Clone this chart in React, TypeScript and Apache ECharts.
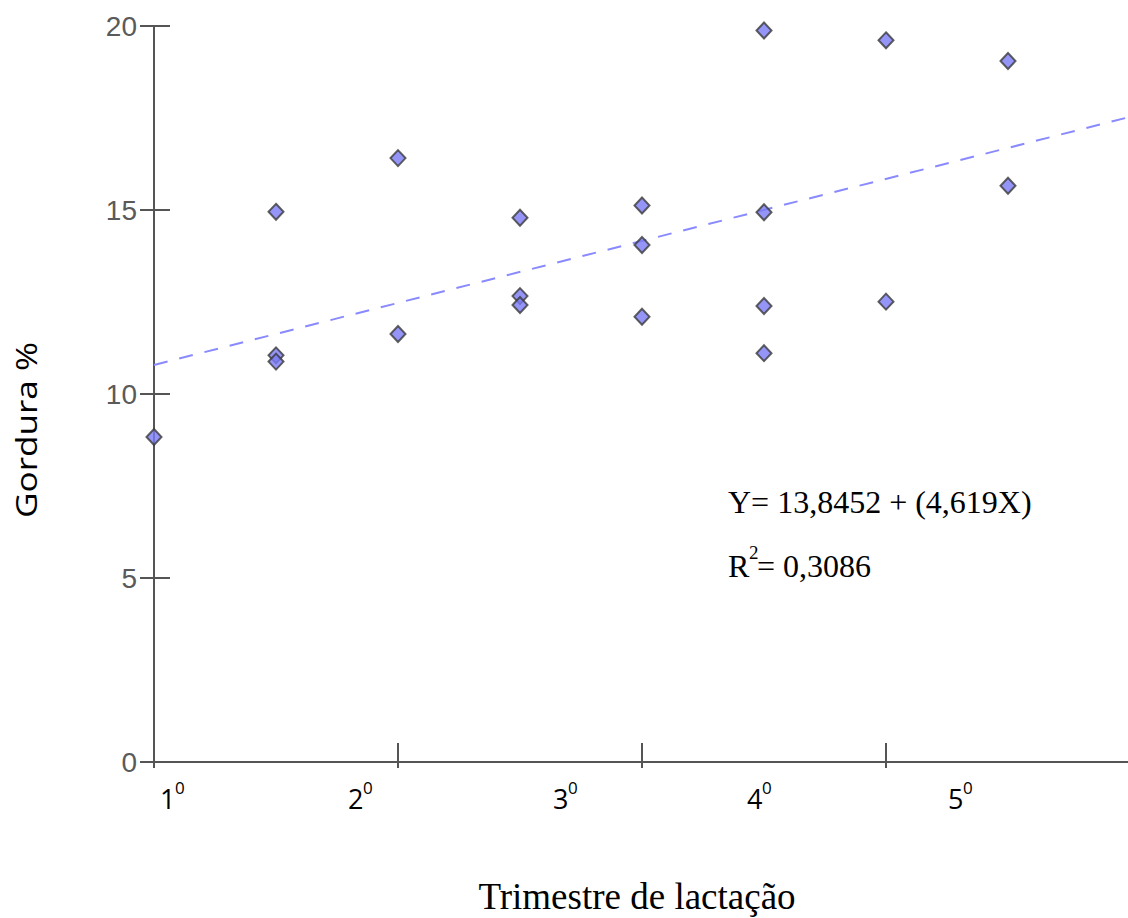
import React, { useEffect, useRef } from "react";
import * as echarts from "echarts";

// Trimestre position (axis units) and fat % for each observation
const trimestre = [0, 0.5, 0.5, 0.5, 1, 1, 1.5, 1.5, 1.5, 2, 2, 2, 2.5, 2.5, 2.5, 2.5, 3, 3, 3.5, 3.5];
const gordura = [8.83, 14.95, 11.05, 10.88, 16.41, 11.63, 14.79, 12.66, 12.42, 15.12, 14.05, 12.1, 19.88, 14.94, 12.39, 11.11, 19.61, 12.51, 19.05, 15.66];

// Regression (trend) line end points
const trendX = [0, 4];
const trendY = [10.79, 17.53];

// Y axis ticks
const yMin = 0;
const yMax = 20;
const yStep = 5;

// Quarter labels under the axis
const quarterLabels = ["1", "2", "3", "4", "5"];
const quarterLabelX = [160, 348, 553, 747, 948];

const equation = "Y= 13,8452 + (4,619X)";
const r2Value = "= 0,3086";
const xTitle = "Trimestre de lactação";
const yTitle = "Gordura %";

export default function App() {
  const ref = useRef<HTMLDivElement>(null);

  useEffect(() => {
    if (!ref.current) return;
    const chart = echarts.init(ref.current, undefined, { renderer: "svg" });
    const axisColor = "#555555";
    const sans = "'Open Sans', sans-serif";
    const serif = "'Liberation Serif', 'Times New Roman', serif";

    const quarterGraphics: any[] = [];
    quarterLabels.forEach((lab, i) => {
      quarterGraphics.push({
        type: "text",
        x: quarterLabelX[i],
        y: 798,
        style: { text: lab, fontSize: 27, fontFamily: sans, fill: "#000", align: "left", verticalAlign: "middle" },
      });
      quarterGraphics.push({
        type: "text",
        x: quarterLabelX[i] + 15,
        y: 787,
        style: { text: "0", fontSize: 17, fontFamily: sans, fill: "#000", align: "left", verticalAlign: "middle" },
      });
    });

    chart.setOption({
      animation: false,
      backgroundColor: "#ffffff",
      grid: { left: 154, top: 26, width: 976, height: 736, outerBoundsMode: "none", containLabel: false },
      xAxis: [
        {
          type: "value",
          min: 0,
          max: 4,
          interval: 1,
          position: "bottom",
          axisLine: { show: true, onZero: false, lineStyle: { color: axisColor, width: 2 } },
          axisTick: { show: true, inside: true, length: 19, lineStyle: { color: axisColor, width: 2 } },
          axisLabel: { show: false },
          splitLine: { show: false },
        },
        {
          type: "value",
          min: 0,
          max: 4,
          interval: 1,
          position: "bottom",
          offset: 0,
          axisLine: { show: false, onZero: false },
          axisTick: { show: true, inside: false, length: 6, lineStyle: { color: axisColor, width: 2 } },
          axisLabel: { show: false },
          splitLine: { show: false },
        },
      ],
      yAxis: [
        {
          type: "value",
          min: yMin,
          max: yMax,
          interval: yStep,
          position: "left",
          axisLine: { show: true, onZero: false, lineStyle: { color: axisColor, width: 2 } },
          axisTick: { show: true, inside: false, length: 14, lineStyle: { color: axisColor, width: 2 } },
          axisLabel: { margin: 17, fontSize: 28, color: "#5a5a5a", fontFamily: "'Liberation Sans', sans-serif" },
          splitLine: { show: false },
        },
        {
          type: "value",
          min: yMin,
          max: yMax,
          interval: yStep,
          position: "left",
          offset: 0,
          axisLine: { show: false, onZero: false },
          axisTick: { show: true, inside: true, length: 16, lineStyle: { color: axisColor, width: 2 } },
          axisLabel: { show: false },
          splitLine: { show: false },
        },
      ],
      series: [
        {
          type: "line",
          xAxisIndex: 0,
          yAxisIndex: 0,
          data: trendX.map((x, i) => [x, trendY[i]]),
          showSymbol: false,
          symbol: "none",
          clip: false,
          z: 1,
          lineStyle: { color: "#8a8aff", width: 2, type: [14, 12] },
        },
        {
          type: "scatter",
          xAxisIndex: 0,
          yAxisIndex: 0,
          data: trimestre.map((x, i) => [x, gordura[i]]),
          symbol: "diamond",
          symbolSize: [15, 16],
          z: 3,
          itemStyle: { color: "#7b7bf5", borderColor: "#3a3a3a", borderWidth: 2 },
        },
      ],
      graphic: [
        {
          type: "text",
          x: 26,
          y: 430,
          rotation: Math.PI / 2,
          scaleX: 1.17,
          style: { text: yTitle, fontSize: 30, fontFamily: sans, fill: "#000", align: "center", verticalAlign: "middle" },
        },
        {
          type: "text",
          x: 637,
          y: 896,
          style: { text: xTitle, fontSize: 37, fontFamily: serif, fill: "#000", align: "center", verticalAlign: "middle" },
        },
        {
          type: "text",
          x: 728,
          y: 502,
          style: { text: equation, fontSize: 32, fontFamily: serif, fill: "#000", align: "left", verticalAlign: "middle" },
        },
        {
          type: "text",
          x: 728,
          y: 566,
          style: { text: "R", fontSize: 32, fontFamily: serif, fill: "#000", align: "left", verticalAlign: "middle" },
        },
        {
          type: "text",
          x: 749,
          y: 552,
          style: { text: "2", fontSize: 19, fontFamily: serif, fill: "#000", align: "left", verticalAlign: "middle" },
        },
        {
          type: "text",
          x: 757,
          y: 566,
          style: { text: r2Value, fontSize: 32, fontFamily: serif, fill: "#000", align: "left", verticalAlign: "middle" },
        },
        ...quarterGraphics,
      ],
    });
    return () => chart.dispose();
  }, []);

  return (
    <div
      ref={ref}
      style={{ position: "absolute", left: 0, top: 0, width: 1128, height: 918, background: "#fff" }}
    />
  );
}
